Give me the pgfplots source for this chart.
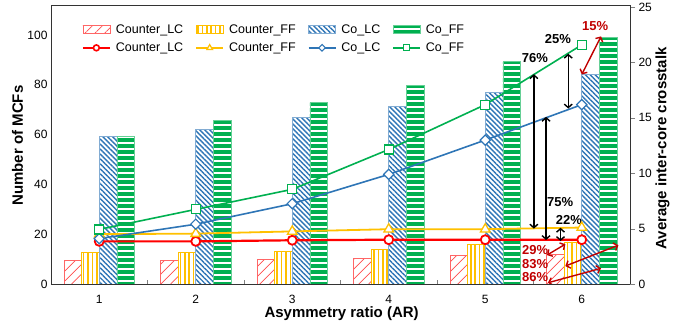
\documentclass[border=0pt]{standalone}
\usepackage{pgfplots}
\pgfplotsset{compat=1.18}
\usetikzlibrary{patterns.meta, arrows.meta}
\usepackage{fontspec}
\setmainfont{Liberation Sans}

\definecolor{cred}{HTML}{FF0000}
\definecolor{cyel}{HTML}{FFC000}
\definecolor{cblue}{HTML}{2E75B6}
\definecolor{cgreen}{HTML}{00B050}
\definecolor{dred}{HTML}{C00000}

\pgfplotsset{
  barlegend/.style={legend image code/.code={\draw[##1] (0pt,-4pt) rectangle (27pt,4pt);}},
  linelegend/.style={legend image code/.code={\draw[##1, mark repeat=2, mark phase=2, /tikz/every mark/.append style={scale=0.65}] plot coordinates {(0pt,0pt) (13.5pt,0pt) (27pt,0pt)};}},
  common/.style={
    at={(0,0)}, anchor=south west,
    scale only axis, width=579pt, height=279pt,
    xmin=0.5, xmax=6.5,
    /pgf/number format/assume math mode=true,
    tick label style={font=\fontsize{12}{14}\selectfont, black},
    label style={font=\fontsize{15}{18}\selectfont\bfseries},
    axis line style={black!80},
  },
}

\tikzset{
  ann/.style={line width=1.4pt, {Straight Barb[length=3.5pt,width=8pt]}-{Straight Barb[length=3.5pt,width=8pt]}},
  pct/.style={font=\fontsize{13}{15}\selectfont\bfseries, inner sep=0pt},
}

\begin{document}
\begin{tikzpicture}
\begin{axis}[
  common,
  ymin=0, ymax=112,
  xtick={1,2,3,4,5,6},
  minor xtick={1.5,2.5,3.5,4.5,5.5},
  major tick length=0pt, minor tick length=4pt, tick align=inside,
  xtick pos=bottom, ytick pos=left,
  ytick={0,20,40,60,80,100},
  xticklabel style={anchor=center, yshift=-15pt},
  ylabel={Number of MCFs},
  ylabel style={at={(axis description cs:-0.0579,0.496)}, anchor=center},
  xlabel={Asymmetry ratio (AR)},
  xlabel style={at={(axis description cs:0.502,0)}, anchor=center, yshift=-29.5pt},
  legend columns=4,
  legend style={draw=none, fill=none, at={(axis description cs:0.053,0.938)}, anchor=north west,
    inner sep=0pt, row sep=4pt, font=\fontsize{12.5}{14}\selectfont,
    /tikz/every odd column/.append style={column sep=3pt},
    /tikz/every even column/.append style={column sep=10pt}},
  legend cell align=left,
]
\addplot[ybar, bar width=17.6pt, bar shift=-26.4pt, draw=cred!60, line width=0.6pt,
  pattern={Lines[angle=45,distance=7pt,line width=0.7pt]}, pattern color=cred!70, barlegend]
  coordinates {(1,9.6) (2,9.6) (3,10.0) (4,10.4) (5,11.6) (6,12.0)};
\addplot[ybar, bar width=17.6pt, bar shift=-8.8pt, draw=cyel, line width=0.6pt,
  pattern={Lines[angle=90,distance=4.4pt,line width=1.6pt]}, pattern color=cyel, barlegend]
  coordinates {(1,12.7) (2,12.7) (3,13.2) (4,14.0) (5,16.0) (6,16.9)};
\addplot[ybar, bar width=17.6pt, bar shift=8.8pt, draw=cblue!60, line width=0.6pt,
  pattern={Lines[angle=-45,distance=3.5pt,line width=1.4pt]}, pattern color=cblue, barlegend]
  coordinates {(1,59.3) (2,62.1) (3,66.9) (4,71.3) (5,76.9) (6,84.0)};
\addplot[ybar, bar width=17.6pt, bar shift=26.4pt, draw=cgreen!60, line width=0.6pt,
  pattern={Lines[angle=0,distance=6pt,line width=3.3pt]}, pattern color=cgreen, barlegend]
  coordinates {(1,59.3) (2,65.7) (3,72.8) (4,79.8) (5,89.2) (6,99.1)};
\addlegendimage{cred, line width=2pt, mark=*, mark size=4.5pt, mark options={fill=white, draw=cred, line width=1.6pt}, linelegend}
\addlegendimage{cyel, line width=1.8pt, mark=triangle*, mark size=5pt, mark options={fill=white, draw=cyel, line width=1.2pt}, linelegend}
\addlegendimage{cblue, line width=1.6pt, mark=square*, mark size=3.6pt, mark options={fill=white, draw=cblue, line width=1.1pt, rotate=45}, linelegend}
\addlegendimage{cgreen, line width=1.6pt, mark=square*, mark size=4.5pt, mark options={fill=white, draw=cgreen, line width=1.1pt}, linelegend}
\legend{Counter\_LC, Counter\_FF, Co\_LC, Co\_FF, Counter\_LC, Counter\_FF, Co\_LC, Co\_FF}

% bar-related annotations (left axis)
\draw[ann, dred] (axis cs:6.0,84.1) -- (axis cs:6.2,99.4);
\node[pct, dred] at (axis cs:6.138,103.4) {15\%};
\draw[ann, dred] (axis cs:5.64,11.6) -- (axis cs:5.83,16.0);
\node[pct, dred] at (axis cs:5.518,13.6) {29\%};
\draw[ann, dred] (axis cs:5.83,7.2) -- (axis cs:6.38,15.6);
\node[pct, dred] at (axis cs:5.518,7.9) {83\%};
\draw[ann, dred] (axis cs:5.65,0.5) -- (axis cs:6.2,6.3);
\node[pct, dred] at (axis cs:5.518,2.9) {86\%};
\end{axis}

\begin{axis}[
  common,
  ymin=0, ymax=25.2,
  axis x line=none, axis y line*=right,
  ytick={0,5,10,15,20,25},
  tick align=outside, major tick length=5pt,
  ylabel={Average inter-core crosstalk},
  ylabel style={at={(axis description cs:1.0561,0.486)}, anchor=center},
]
\addplot[cred, line width=2.2pt, mark=*, mark size=4.5pt, mark options={fill=white, draw=cred, line width=1.8pt}]
  coordinates {(1,3.85) (2,3.85) (3,3.95) (4,4.0) (5,4.0) (6,4.0)};
\addplot[cyel, line width=1.8pt, mark=triangle*, mark size=5.5pt, mark options={fill=white, draw=cyel, line width=1.3pt}]
  coordinates {(1,4.5) (2,4.55) (3,4.75) (4,4.95) (5,4.95) (6,5.1)};
\addplot[cblue, line width=1.6pt, mark=square*, mark size=3.6pt, mark options={fill=white, draw=cblue, line width=1.2pt, rotate=45}]
  coordinates {(1,4.1) (2,5.4) (3,7.25) (4,9.9) (5,13.0) (6,16.2)};
\addplot[cgreen, line width=1.6pt, mark=square*, mark size=4.5pt, mark options={fill=white, draw=cgreen, line width=1.2pt}]
  coordinates {(1,4.93) (2,6.74) (3,8.55) (4,12.15) (5,16.2) (6,21.6)};

% line-related annotations (right axis)
\draw[ann, black] (axis cs:5.504,18.95) -- (axis cs:5.504,5.0);
\node[pct] at (axis cs:5.514,20.44) {76\%};
\draw[ann, black] (axis cs:5.63,15.1) -- (axis cs:5.63,3.97);
\node[pct] at (axis cs:5.776,7.43) {75\%};
\draw[ann, black] (axis cs:5.86,20.8) -- (axis cs:5.86,15.85);
\node[pct] at (axis cs:5.752,22.11) {25\%};
\draw[ann, black] (axis cs:5.78,5.08) -- (axis cs:5.78,3.88);
\node[pct] at (axis cs:5.866,5.78) {22\%};
\end{axis}
\pgfresetboundingbox
\path (-51pt,-42pt) rectangle (632pt,284pt);
\end{tikzpicture}
\end{document}
